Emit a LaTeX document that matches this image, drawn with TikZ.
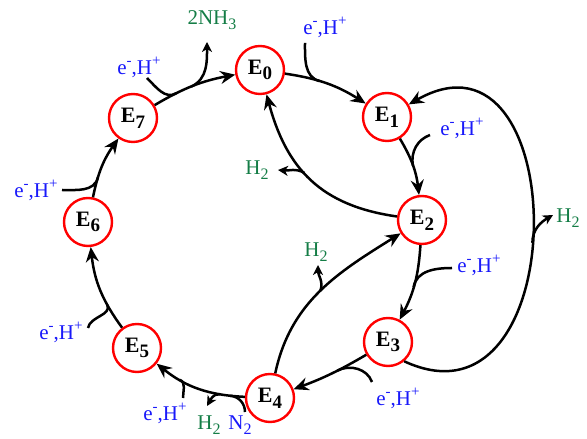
\documentclass[tikz,border=0pt]{standalone}
\usepackage{fontspec}
\setmainfont{Liberation Serif}
\usetikzlibrary{arrows.meta}
\definecolor{eblue}{RGB}{25,25,250}
\definecolor{hgreen}{RGB}{20,125,70}
\newcommand\myup[1]{\raisebox{0.42em}{\fontsize{15}{15}\selectfont #1}}
\newcommand\mydn[1]{\raisebox{-0.24em}{\fontsize{16}{16}\selectfont #1}}
\newcommand\mysub[1]{\raisebox{-0.26em}{\fontsize{19}{19}\selectfont\bfseries #1}}
\newcommand\eH{e\myup{-},H\myup{+}}
\begin{document}
\begin{tikzpicture}[x=1pt,y=1pt,
 state/.style={circle, draw=red, line width=2.4pt, minimum size=48pt, inner sep=0pt, font=\fontsize{22}{24}\selectfont\bfseries},
 main/.style={line width=2.5pt, -{Stealth[length=15pt,width=13pt,inset=5pt]}},
 feed/.style={line width=2.5pt},
 outb/.style={line width=2.5pt, -{Stealth[length=10pt,width=10pt,inset=3pt]}},
 elab/.style={text=eblue, font=\fontsize{21}{23}\selectfont, inner sep=0pt},
 glab/.style={text=hgreen, font=\fontsize{21}{23}\selectfont, inner sep=0pt}]
\useasboundingbox (0,0) rectangle (587,439);

% states
\node[state] (E0) at (260,369) {E\mysub{0}};
\node[state] (E1) at (387,322) {E\mysub{1}};
\node[state] (E2) at (422,219) {E\mysub{2}};
\node[state] (E3) at (388,97)  {E\mysub{3}};
\node[state] (E4) at (270,41)  {E\mysub{4}};
\node[state] (E5) at (137,91)  {E\mysub{5}};
\node[state] (E6) at (88,217)  {E\mysub{6}};
\node[state] (E7) at (133,321) {E\mysub{7}};

% labels
\node[glab] (Lnh3) at (212,419) {2NH\mydn{3}};
\node[elab] (L01) at (325,412) {\eH};
\node[elab] (L12) at (462,311) {\eH};
\node[glab] (Lh20) at (257,269) {H\mydn{2}};
\node[glab] (Lh31) at (568,221) {H\mydn{2}};
\node[elab] (L23) at (479,174) {\eH};
\node[glab] (Lh42) at (316,187) {H\mydn{2}};
\node[elab] (L34) at (398,41) {\eH};
\node[elab] (L45) at (165,26) {\eH};
\node[glab] (Lh45) at (209,14) {H\mydn{2}};
\node[elab] (Ln2) at (240,14) {N\mydn{2}};
\node[elab] (L56) at (61,107) {\eH};
\node[elab] (L67) at (36,249) {\eH};
\node[elab] (L70) at (139,372) {\eH};

% feed start points and branch tips
\coordinate (s01) at (305,396);
\coordinate (s12) at (430,304);
\coordinate (s23) at (452,171);
\coordinate (s34) at (372,57);
\coordinate (sn2) at (245,27);
\coordinate (s45) at (183,41);
\coordinate (s56) at (88,111);
\coordinate (s67) at (62,249);
\coordinate (s70) at (147,361);
\coordinate (tnh3) at (207,397);
\coordinate (th20) at (278,269);
\coordinate (th42) at (318,174);
\coordinate (th31) at (553,224);
\coordinate (th45) at (207,33);

% main cycle
\draw[main] (E0) to[bend left=12] coordinate[pos=0.4] (j01) (E1);
\draw[main] (E1) to[bend left=12] coordinate[pos=0.5] (j12) (E2);
\draw[main] (E2) to[bend left=12] coordinate[pos=0.55] (j23) (E3);
\draw[main] (E3) to[bend left=5] coordinate[pos=0.4] (j34) (E4);
\draw[main] (E4) to[bend left=18] coordinate[pos=0.14] (jn2) coordinate[pos=0.25] (b45) coordinate[pos=0.72] (j45) (E5);
\draw[main] (E5) to[bend left=15] coordinate[pos=0.3] (j56) (E6);
\draw[main] (E6) to[bend left=12] coordinate[pos=0.3] (j67) (E7);
\draw[main] (E7) to[bend left=10] coordinate[pos=0.27] (j70) coordinate[pos=0.47] (b70) (E0);

% cross connectors
\draw[main] (E2) to[out=172,in=-75,looseness=1.1] coordinate[pos=0.55] (b20) (E0);
\draw[main] (E4) to[out=78,in=212] coordinate[pos=0.5] (b42) (E2);
\draw[main] (E3.-50) .. controls (576,-2) and (574,429) .. coordinate[pos=0.47] (b31) (E1.30);

% feeds
\draw[feed] (s01) to[out=-90,in=165] (j01);
\draw[feed] (s12) to[out=200,in=100] (j12);
\draw[feed] (s23) to[out=180,in=80] (j23);
\draw[feed] (s34) to[out=110,in=27] (j34);
\draw[feed] (sn2) to[out=90,in=-5] (jn2);
\draw[feed] (s45) to[out=90,in=-25] (j45);
\draw[feed] (s56) to[out=80,in=-65] (j56);
\draw[feed] (s67) to[out=0,in=-105] (j67);
\draw[feed] (s70) to[out=-45,in=210] (j70);

% outputs
\draw[outb] (b70) to[out=25,in=-90] (tnh3);
\draw[outb] (b20) to[out=150,in=-5] (th20);
\draw[outb] (b42) to[out=70,in=-90] (th42);
\draw[outb] (b31) to[out=90,in=210] (th31);
\draw[outb] (b45) to[out=175,in=60] (th45);
\end{tikzpicture}
\end{document}
